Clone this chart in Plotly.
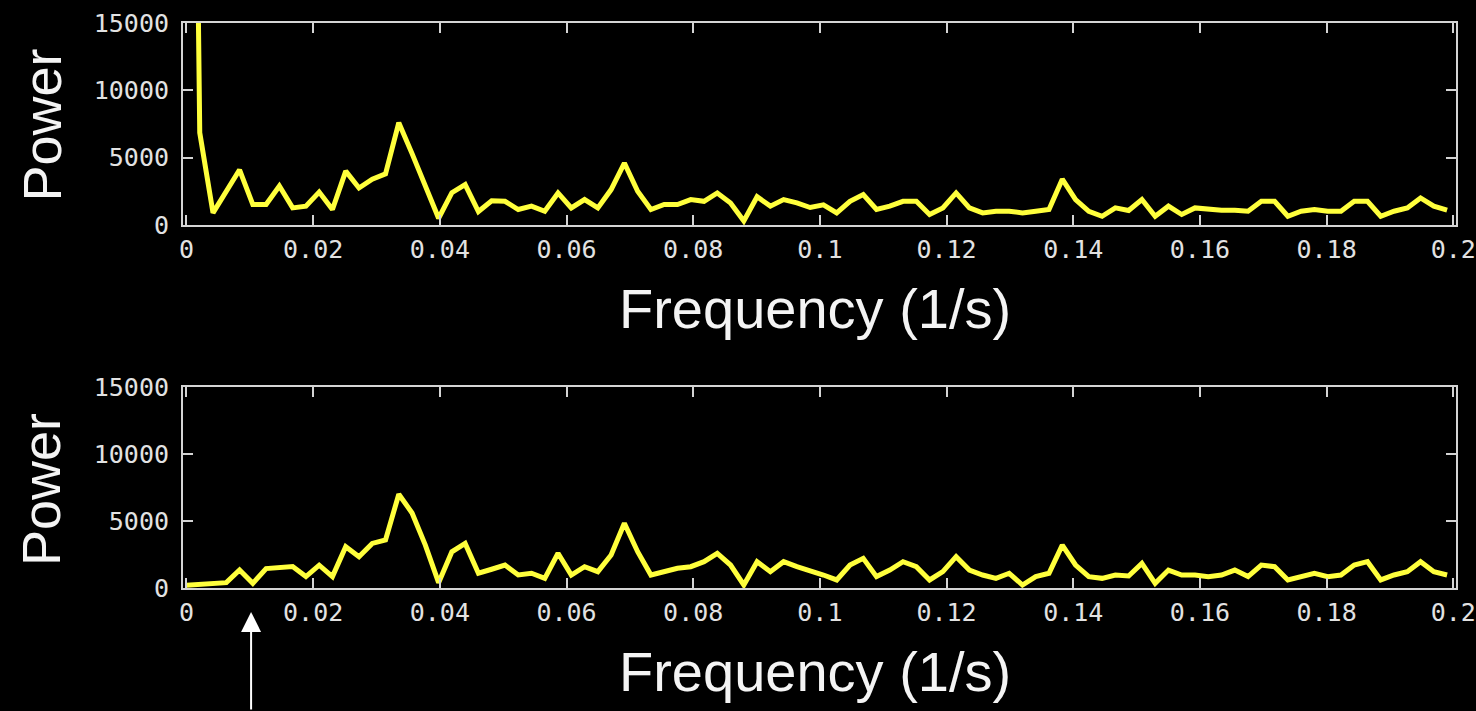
import plotly.graph_objects as go

# Frequency bins (1/s) of the power spectrum
freq = [
    0.0, 0.002095, 0.00419, 0.006285, 0.00838, 0.010475, 0.01257, 0.014665,
    0.01676, 0.018855, 0.02095, 0.023045, 0.02514, 0.027235, 0.02933, 0.031425,
    0.03352, 0.035615, 0.03771, 0.039805, 0.0419, 0.043995, 0.04609, 0.048185,
    0.05028, 0.052375, 0.05447, 0.056565, 0.05866, 0.060755, 0.06285, 0.064945,
    0.06704, 0.069135, 0.07123, 0.073325, 0.07542, 0.077515, 0.07961, 0.081705,
    0.0838, 0.085895, 0.08799, 0.090085, 0.09218, 0.094275, 0.09637, 0.098465,
    0.10056, 0.102655, 0.10475, 0.106845, 0.10894, 0.111035, 0.11313, 0.115225,
    0.11732, 0.119415, 0.12151, 0.123605, 0.1257, 0.127795, 0.12989, 0.131985,
    0.13408, 0.136175, 0.13827, 0.140365, 0.14246, 0.144555, 0.14665, 0.148745,
    0.15084, 0.152935, 0.15503, 0.157125, 0.15922, 0.161315, 0.16341, 0.165505,
    0.1676, 0.169695, 0.17179, 0.173885, 0.17598, 0.178075, 0.18017, 0.182265,
    0.18436, 0.186455, 0.18855, 0.190645, 0.19274, 0.194835, 0.19693, 0.199025,
]

# Power spectrum of the raw signal (DC term runs far off scale)
power_raw = [
    90000, 6850, 900, 2500, 4100, 1520, 1520, 2900, 1270, 1400,
    2450, 1150, 4000, 2750, 3400, 3800, 7600, 5300, 3000, 500,
    2400, 3000, 1000, 1800, 1760, 1150, 1400, 1020, 2380, 1270,
    1890, 1270, 2630, 4600, 2500, 1150, 1520, 1520, 1890, 1760,
    2380, 1640, 300, 2100, 1400, 1890, 1640, 1300, 1500, 900,
    1760, 2260, 1150, 1400, 1760, 1760, 780, 1270, 2380, 1270,
    900, 1020, 1020, 900, 1020, 1150, 3400, 1890, 1020, 650,
    1270, 1080, 1890, 650, 1400, 780, 1270, 1150, 1100, 1100,
    1020, 1760, 1760, 650, 1020, 1150, 1020, 1020, 1760, 1760,
    650, 1020, 1270, 2010, 1400, 1100,
]

# Power spectrum after removing the low-frequency trend
power_detrended = [
    200, 250, 350, 400, 1340, 350, 1450, 1500, 1600, 850,
    1700, 850, 3080, 2330, 3330, 3580, 7000, 5600, 3200, 400,
    2700, 3330, 1100, 1400, 1716, 970, 1100, 720, 2590, 970,
    1590, 1220, 2460, 4830, 2710, 970, 1220, 1470, 1590, 1965,
    2590, 1716, 224, 1965, 1220, 1965, 1590, 1300, 970, 600,
    1716, 2214, 850, 1340, 1965, 1590, 600, 1220, 2340, 1340,
    970, 720, 1100, 224, 850, 1100, 3200, 1716, 850, 720,
    970, 900, 1840, 350, 1340, 970, 970, 850, 970, 1340,
    850, 1716, 1590, 600, 850, 1100, 850, 970, 1716, 1965,
    600, 970, 1220, 1965, 1220, 970,
]

x_tickvals = [0, 0.02, 0.04, 0.06, 0.08, 0.1, 0.12, 0.14, 0.16, 0.18, 0.2]
x_ticktext = ["0", "0.02", "0.04", "0.06", "0.08", "0.1", "0.12", "0.14", "0.16", "0.18", "0.2"]
y_tickvals = [0, 5000, 10000, 15000]
y_ticktext = ["0", "5000", "10000", "15000"]

W, H = 1476, 711
LINE_COLOR = "#ffff3c"
FRAME_COLOR = "#d4d4d4"
TEXT_COLOR = "#f4f4f4"
TICK_FONT = dict(family="DejaVu Sans Mono, Liberation Mono, monospace", size=25, color="#e2e2e2")
TITLE_FONT = dict(family="Liberation Sans, Arial, Helvetica, sans-serif", size=56, color=TEXT_COLOR)

x_dom = [183 / W, 1456 / W]
top_dom = [1 - 225 / H, 1 - 23 / H]
bot_dom = [1 - 588 / H, 1 - 387 / H]

fig = go.Figure()
fig.add_trace(go.Scatter(x=freq, y=power_raw, mode="lines",
                         line=dict(color=LINE_COLOR, width=5),
                         xaxis="x", yaxis="y", showlegend=False))
fig.add_trace(go.Scatter(x=freq, y=power_detrended, mode="lines",
                         line=dict(color=LINE_COLOR, width=5),
                         xaxis="x2", yaxis="y2", showlegend=False))

common_x = dict(range=[-0.00055, 0.20043], domain=x_dom, tickvals=x_tickvals, ticktext=x_ticktext,
                ticks="inside", ticklen=10, tickwidth=2, tickcolor=FRAME_COLOR,
                showline=True, linewidth=2, linecolor=FRAME_COLOR, mirror="ticks",
                showgrid=False, zeroline=False, tickfont=TICK_FONT, fixedrange=True,
                automargin=False, ticklabelstandoff=1)
common_y = dict(range=[0, 15000], tickvals=y_tickvals, ticktext=y_ticktext,
                ticks="inside", ticklen=10, tickwidth=2, tickcolor=FRAME_COLOR,
                showline=True, linewidth=2, linecolor=FRAME_COLOR, mirror="ticks",
                showgrid=False, zeroline=False, tickfont=TICK_FONT, fixedrange=True,
                automargin=False, ticklabelstandoff=7)

fig.update_layout(
    width=W, height=H,
    margin=dict(l=0, r=0, t=0, b=0, autoexpand=False),
    paper_bgcolor="black", plot_bgcolor="black",
    xaxis=dict(anchor="y", **common_x),
    yaxis=dict(anchor="x", domain=top_dom, **common_y),
    xaxis2=dict(anchor="y2", **common_x),
    yaxis2=dict(anchor="x2", domain=bot_dom, **common_y),
)

x_mid = (x_dom[0] + x_dom[1]) / 2 - 5 / W
annotations = []
for y_title in (1 - 308.6 / H, 1 - 671.6 / H):
    annotations.append(dict(text="Frequency (1/s)", xref="paper", yref="paper",
                            x=x_mid, y=y_title, xanchor="center", yanchor="middle",
                            showarrow=False, font=TITLE_FONT))
for y_title in (1 - 125.5 / H, 1 - 490 / H):
    annotations.append(dict(text="Power", xref="paper", yref="paper",
                            x=41 / W, y=y_title, xanchor="center", yanchor="middle",
                            textangle=-90, showarrow=False,
                            font=dict(family=TITLE_FONT["family"], size=54, color=TEXT_COLOR)))

# Arrow marking a frequency on the lower spectrum
annotations.append(dict(text="", xref="x2", yref="paper", x=0.0102, y=1 - 612 / H,
                        ax=0, ay=130, showarrow=True, arrowhead=2, arrowsize=2,
                        arrowwidth=2, arrowcolor="white"))
fig.update_layout(annotations=annotations)

fig.write_html("out.html")
